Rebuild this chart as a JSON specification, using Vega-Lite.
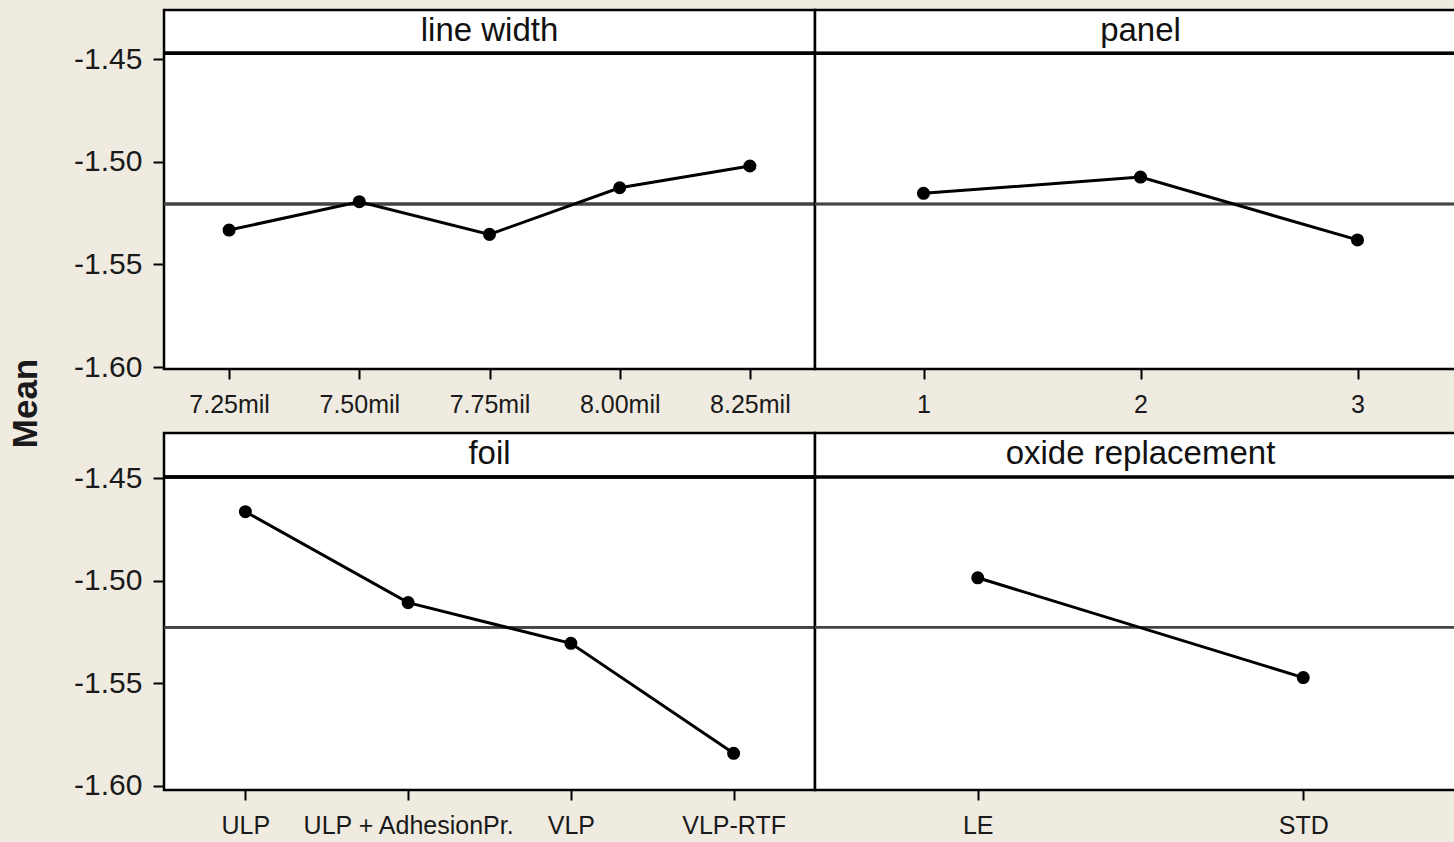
{
  "$schema": "https://vega.github.io/schema/vega-lite/v6.json",
  "background": "#efebe1",
  "padding": {"left": 6, "top": 8, "right": 0, "bottom": 6},
  "bounds": "flush",
  "columns": 2,
  "spacing": {"row": 64, "column": 0},
  "datasets": {
    "means": [
      {"factor": "line width", "level": "7.25mil", "mean": -1.5333},
      {"factor": "line width", "level": "7.50mil", "mean": -1.5195},
      {"factor": "line width", "level": "7.75mil", "mean": -1.5354},
      {"factor": "line width", "level": "8.00mil", "mean": -1.5127},
      {"factor": "line width", "level": "8.25mil", "mean": -1.5021},
      {"factor": "panel", "level": "1", "mean": -1.5154},
      {"factor": "panel", "level": "2", "mean": -1.5075},
      {"factor": "panel", "level": "3", "mean": -1.5381},
      {"factor": "foil", "level": "ULP", "mean": -1.4664},
      {"factor": "foil", "level": "ULP + AdhesionPr.", "mean": -1.5107},
      {"factor": "foil", "level": "VLP", "mean": -1.5305},
      {"factor": "foil", "level": "VLP-RTF", "mean": -1.5841},
      {"factor": "oxide replacement", "level": "LE", "mean": -1.4986},
      {"factor": "oxide replacement", "level": "STD", "mean": -1.5472}
    ]
  },
  "config": {
    "view": {"stroke": "#000000", "strokeWidth": 2.5, "fill": "#ffffff"},
    "axis": {"domain": false, "grid": false, "tickColor": "#000000", "tickWidth": 2, "labelColor": "#1a1a1a", "labelFont": "Liberation Sans", "titleFont": "Liberation Sans", "titleColor": "#1a1a1a", "labelLimit": 0},
    "axisX": {"labelAngle": 0, "tickSize": 10, "labelPadding": 13, "labelFontSize": 25, "title": null},
    "axisY": {"tickSize": 11, "labelPadding": 11, "labelFontSize": 30},
    "title": {"fontSize": 33, "font": "Liberation Sans", "fontWeight": "normal", "color": "#111111", "anchor": "middle", "frame": "group", "offset": -38, "baseline": "alphabetic"}
  },
  "concat": [
    {
      "width": 651, "height": 359,
      "title": {"text": "line width"},
      "data": {"name": "means"},
      "transform": [{"filter": "datum.factor === 'line width'"}],
      "layer": [
        {"mark": {"type": "rule", "strokeWidth": 3, "color": "#000000"}, "encoding": {"y": {"datum": -1.4472, "type": "quantitative"}}},
        {"mark": {"type": "rule", "strokeWidth": 2.5, "color": "#444444"}, "encoding": {"y": {"datum": -1.5206, "type": "quantitative"}}},
        {"mark": {"type": "line", "color": "#000000", "strokeWidth": 3}, "encoding": {
          "x": {"field": "level", "type": "ordinal", "sort": null, "scale": {"type": "point", "padding": 0.5}},
          "y": {"field": "mean", "type": "quantitative", "scale": {"domain": [-1.60097, -1.42613], "nice": false, "zero": false},
                "axis": {"values": [-1.6, -1.55, -1.5, -1.45], "labelExpr": "'-' + format(abs(datum.value), '.2f')", "title": "Mean", "titleFontSize": 35, "titleFontWeight": "bold", "titleAngle": -90, "titleX": -128, "titleY": 393, "titleBaseline": "alphabetic", "titleAlign": "center"}}
        }},
        {"mark": {"type": "point", "filled": true, "color": "#000000", "size": 170, "opacity": 1}, "encoding": {
          "x": {"field": "level", "type": "ordinal", "sort": null},
          "y": {"field": "mean", "type": "quantitative"}
        }}
      ]
    },
    {
      "width": 651, "height": 359,
      "title": {"text": "panel"},
      "data": {"name": "means"},
      "transform": [{"filter": "datum.factor === 'panel'"}],
      "layer": [
        {"mark": {"type": "rule", "strokeWidth": 3, "color": "#000000"}, "encoding": {"y": {"datum": -1.4472, "type": "quantitative", "axis": null}}},
        {"mark": {"type": "rule", "strokeWidth": 2.5, "color": "#444444"}, "encoding": {"y": {"datum": -1.5206, "type": "quantitative", "axis": null}}},
        {"mark": {"type": "line", "color": "#000000", "strokeWidth": 3}, "encoding": {
          "x": {"field": "level", "type": "ordinal", "sort": null, "scale": {"type": "point", "padding": 0.5}},
          "y": {"field": "mean", "type": "quantitative", "scale": {"domain": [-1.60097, -1.42613], "nice": false, "zero": false}, "axis": null}
        }},
        {"mark": {"type": "point", "filled": true, "color": "#000000", "size": 170, "opacity": 1}, "encoding": {
          "x": {"field": "level", "type": "ordinal", "sort": null},
          "y": {"field": "mean", "type": "quantitative", "axis": null}
        }}
      ]
    },
    {
      "width": 651, "height": 357,
      "title": {"text": "foil"},
      "data": {"name": "means"},
      "transform": [{"filter": "datum.factor === 'foil'"}],
      "layer": [
        {"mark": {"type": "rule", "strokeWidth": 3, "color": "#000000"}, "encoding": {"y": {"datum": -1.4495, "type": "quantitative"}}},
        {"mark": {"type": "rule", "strokeWidth": 2.5, "color": "#444444"}, "encoding": {"y": {"datum": -1.5227, "type": "quantitative"}}},
        {"mark": {"type": "line", "color": "#000000", "strokeWidth": 3}, "encoding": {
          "x": {"field": "level", "type": "ordinal", "sort": null, "scale": {"type": "point", "padding": 0.5}},
          "y": {"field": "mean", "type": "quantitative", "scale": {"domain": [-1.60195, -1.42808], "nice": false, "zero": false},
                "axis": {"values": [-1.6, -1.55, -1.5, -1.45], "labelExpr": "'-' + format(abs(datum.value), '.2f')", "title": null}}
        }},
        {"mark": {"type": "point", "filled": true, "color": "#000000", "size": 170, "opacity": 1}, "encoding": {
          "x": {"field": "level", "type": "ordinal", "sort": null},
          "y": {"field": "mean", "type": "quantitative"}
        }}
      ]
    },
    {
      "width": 651, "height": 357,
      "title": {"text": "oxide replacement"},
      "data": {"name": "means"},
      "transform": [{"filter": "datum.factor === 'oxide replacement'"}],
      "layer": [
        {"mark": {"type": "rule", "strokeWidth": 3, "color": "#000000"}, "encoding": {"y": {"datum": -1.4495, "type": "quantitative", "axis": null}}},
        {"mark": {"type": "rule", "strokeWidth": 2.5, "color": "#444444"}, "encoding": {"y": {"datum": -1.5227, "type": "quantitative", "axis": null}}},
        {"mark": {"type": "line", "color": "#000000", "strokeWidth": 3}, "encoding": {
          "x": {"field": "level", "type": "ordinal", "sort": null, "scale": {"type": "point", "padding": 0.5}},
          "y": {"field": "mean", "type": "quantitative", "scale": {"domain": [-1.60195, -1.42808], "nice": false, "zero": false}, "axis": null}
        }},
        {"mark": {"type": "point", "filled": true, "color": "#000000", "size": 170, "opacity": 1}, "encoding": {
          "x": {"field": "level", "type": "ordinal", "sort": null},
          "y": {"field": "mean", "type": "quantitative", "axis": null}
        }}
      ]
    }
  ]
}
